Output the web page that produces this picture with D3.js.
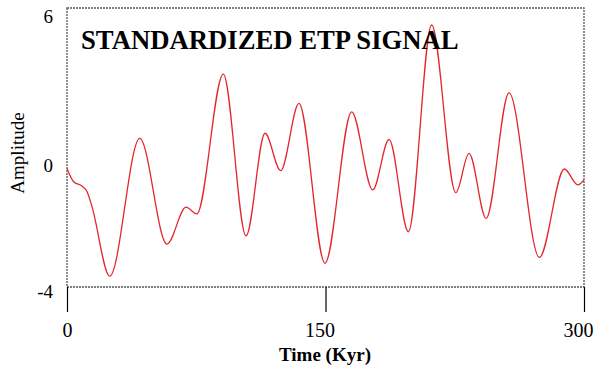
<!DOCTYPE html>
<html>
<head>
<meta charset="utf-8">
<script src="https://cdn.jsdelivr.net/npm/d3@7"></script>
<style>
  html, body { margin: 0; padding: 0; background: #fff; }
  svg { display: block; }
</style>
</head>
<body>
<script>
// ---- data ----
const timeKyr = [0, 3.9, 8.7, 11.6, 14.5, 24.8, 42.2, 58.0, 69.1, 75.3, 90.7, 103.9, 114.9, 124.0,
  134.6, 149.7, 165.2, 177.4, 186.9, 198.1, 211.6, 225.6, 233.3, 243.2, 256.5, 274.1, 288.6, 296.4, 300];
const amplitude = [0.25, -0.23, -0.38, -0.58, -1.12, -3.61, 1.33, -2.46, -1.14, -1.38, 3.63, -2.17, 1.51, 0.17,
  2.58, -3.15, 2.28, -0.52, 1.29, -2.02, 5.39, -0.62, 0.79, -1.54, 2.96, -2.94, 0.23, -0.34, -0.16];
const xTicks = [0, 150, 300];
const yTicks = [-4, 0, 6];
const titleText = "STANDARDIZED ETP SIGNAL";
const xLabel = "Time (Kyr)";
const yLabel = "Amplitude";

// ---- layout ----
const W = 595, H = 372;
const plotL = 67, plotR = 584, plotT = 8, plotB = 287;

const svg = d3.select("body").append("svg").attr("width", W).attr("height", H);
svg.append("rect").attr("width", W).attr("height", H).attr("fill", "#fff");

const x = d3.scaleLinear().domain([0, 300]).range([plotL, plotR]);
const y = d3.scaleLinear().domain([-4, 6]).range([plotB, plotT]);

const data = timeKyr.map((t, i) => ({ t, v: amplitude[i] }));

// frame (dotted)
svg.append("rect")
  .attr("x", plotL).attr("y", plotT)
  .attr("width", plotR - plotL).attr("height", plotB - plotT)
  .attr("fill", "none").attr("stroke", "#555").attr("stroke-width", 1.3)
  .attr("stroke-dasharray", "2,1");

// signal line
const line = d3.line().x(d => x(d.t)).y(d => y(d.v)).curve(d3.curveMonotoneX);
svg.append("path").datum(data)
  .attr("d", line)
  .attr("fill", "none")
  .attr("stroke", "#e4262e")
  .attr("stroke-width", 1.3);

// title
svg.append("text")
  .attr("x", 81).attr("y", 49)
  .attr("font-family", "'Liberation Serif', 'Times New Roman', serif")
  .attr("font-weight", "bold")
  .attr("font-size", 26.7)
  .attr("fill", "#000")
  .text(titleText);

// x axis ticks (solid, below the frame)
const xAxis = d3.axisBottom(x).tickValues(xTicks).tickSize(25).tickPadding(4).tickFormat(d => String(d));
const gx = svg.append("g").attr("transform", `translate(0,${plotB})`).call(xAxis);
gx.select(".domain").remove();
gx.selectAll(".tick line").attr("stroke", "#000").attr("stroke-width", 1.2);
gx.selectAll(".tick text")
  .attr("font-family", "'Liberation Serif', 'Times New Roman', serif")
  .attr("font-size", 20)
  .attr("fill", "#000")
  .attr("y", 0).attr("dy", 50)
  .attr("dx", d => -3 * (String(d).length - 1));

// y tick labels
const yAxis = d3.axisLeft(y).tickValues(yTicks).tickSize(0).tickPadding(14).tickFormat(d => String(d));
const gy = svg.append("g").attr("transform", `translate(${plotL},0)`).call(yAxis);
gy.select(".domain").remove();
gy.selectAll(".tick line").remove();
gy.selectAll(".tick text")
  .attr("font-family", "'Liberation Serif', 'Times New Roman', serif")
  .attr("font-size", 19)
  .attr("fill", "#000")
  .attr("dy", d => d === 6 ? 14 : (d === -4 ? 10 : -4))
  .attr("x", -14);

// axis titles
svg.append("text")
  .attr("x", 325).attr("y", 361)
  .attr("text-anchor", "middle")
  .attr("font-family", "'Liberation Serif', 'Times New Roman', serif")
  .attr("font-weight", "bold")
  .attr("font-size", 19)
  .attr("fill", "#000")
  .text(xLabel);

svg.append("text")
  .attr("transform", "translate(24,153) rotate(-90)")
  .attr("text-anchor", "middle")
  .attr("font-family", "'Liberation Serif', 'Times New Roman', serif")
  .attr("font-size", 19)
  .attr("fill", "#000")
  .text(yLabel);
</script>
</body>
</html>
